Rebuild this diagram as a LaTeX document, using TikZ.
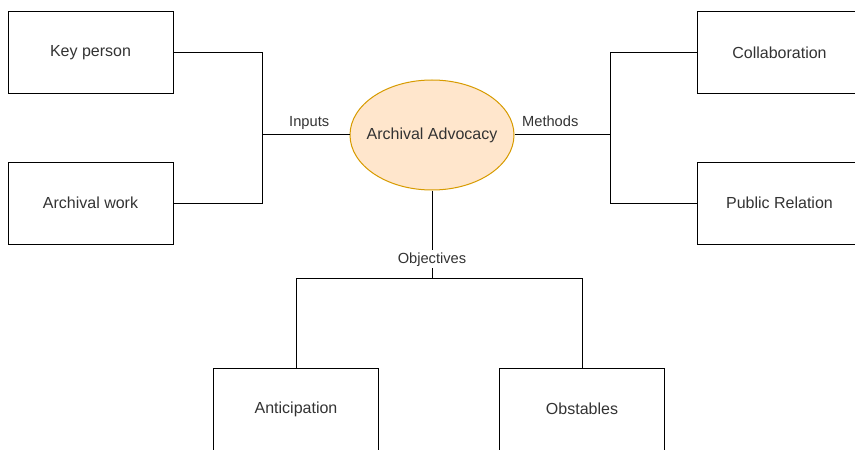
\documentclass[tikz,border=0pt]{standalone}
\usepackage{fontspec}
\setmainfont{Liberation Sans}
\definecolor{txtgray}{RGB}{51,51,51}
\definecolor{advfill}{RGB}{255,230,204}
\definecolor{advdraw}{RGB}{215,155,0}
\usetikzlibrary{shapes.geometric}

\begin{document}
\begin{tikzpicture}[x=0.75pt, y=-0.75pt,
  itembox/.style={draw, line width=0.75pt, fill=white, minimum width=123.75pt, minimum height=61.5pt, font=\fontsize{12}{14}\selectfont, text=txtgray},
  link/.style={line width=0.75pt},
  linklabel/.style={font=\fontsize{11}{13}\selectfont, text=txtgray, inner sep=1.5pt, anchor=base}]
  \useasboundingbox (0,0) rectangle (855,449);

  % Centre topic
  \node[ellipse, draw=advdraw, fill=advfill, line width=0.75pt, minimum width=123pt, minimum height=82.5pt, inner sep=0pt, font=\fontsize{12}{14}\selectfont, text=txtgray] (adv) at (432,135) {\makebox[0pt]{Archival Advocacy}};

  % Inputs branch
  \node[itembox] (key) at (90.5,53) {Key person};
  \node[itembox] (work) at (90.5,203) {Archival work};
  \coordinate (jin) at (262,135);

  % Methods branch
  \node[itembox] (collab) at (779.5,53) {Collaboration};
  \node[itembox] (pr) at (779.5,203) {Public Relation};
  \coordinate (jmeth) at (610,135);

  % Objectives branch
  \node[itembox] (antic) at (296,409) {Anticipation};
  \node[itembox] (obst) at (582,409) {Obstables};
  \coordinate (jobj) at (432,278);

  \draw[link] (key.east) -| (jin);
  \draw[link] (work.east) -| (jin);
  \draw[link] (jin) -- node[linklabel, xshift=2.6pt, yshift=6.5pt] {Inputs} (adv.west);

  \draw[link] (collab.west) -| (jmeth);
  \draw[link] (pr.west) -| (jmeth);
  \draw[link] (adv.east) -- node[linklabel, xshift=-9pt, yshift=6.5pt] {Methods} (jmeth);

  \draw[link] (adv.south) -- (jobj);
  \draw[link] (antic.north) |- (jobj);
  \draw[link] (obst.north) |- (jobj);
  \node[linklabel, fill=white] (objlbl) at (432,263) {Objectives};
\end{tikzpicture}
\end{document}
